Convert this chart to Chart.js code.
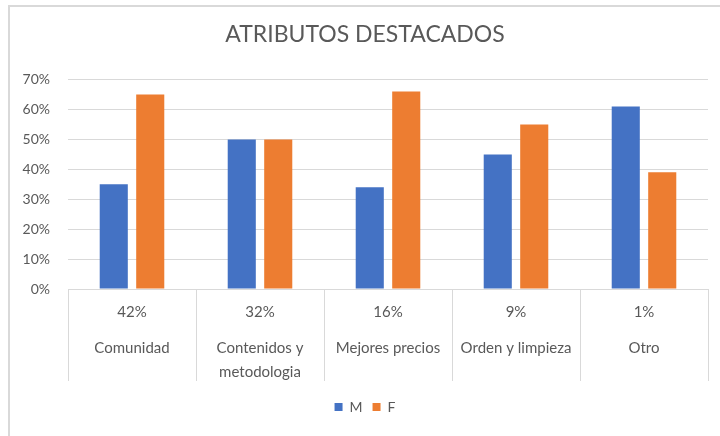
<!DOCTYPE html>
<html>
<head>
<meta charset="utf-8">
<script src="https://cdn.jsdelivr.net/npm/chart.js@4/dist/chart.umd.min.js"></script>
<style>
    body { margin: 0; background: #fff; }
    #frame {
        position: absolute; left: 8px; top: 5px; width: 800px; height: 500px;
        border-left: 2px solid #d9d9d9; border-top: 2px solid #d9d9d9;
    }
    #wrap { position: absolute; left: 0; top: 0; width: 720px; height: 436px; }
</style>
</head>
<body>
<div id="frame"></div>
<div id="wrap"><canvas id="myChart"></canvas></div>
<script>
let shares = ["42%", "32%", "16%", "9%", "1%"];
let categories = [["Comunidad"], ["Contenidos y", "", "metodologia"], ["Mejores precios"], ["Orden y limpieza"], ["Otro"]];
let valuesM = [35, 50, 34, 45, 61];
let valuesF = [65, 50, 66, 55, 39];
let yTicks = [0, 10, 20, 30, 40, 50, 60, 70];

// two-level labels: share on top, name below
let labels = shares.map((s, i) => [s, "", "", ...categories[i]]);

let grey = "#595959";
let lineGrey = "#d9d9d9";
let font = "Lato, 'Open Sans', sans-serif";

const ctx = document.getElementById("myChart").getContext("2d");

new Chart(ctx, {
    type: "bar",
    data: {
        labels: labels,
        datasets: [
            { label: "M", data: valuesM, backgroundColor: "#4472C4" },
            { label: "F", data: valuesF, backgroundColor: "#ED7D31" }
        ]
    },
    options: {
        responsive: true,
        maintainAspectRatio: false,
        animation: false,
        layout: { padding: { left: 22, right: 12, top: 0, bottom: 12 } },
        datasets: { bar: { categoryPercentage: 0.57, barPercentage: 0.77 } },
        plugins: {
            title: {
                display: true,
                text: "ATRIBUTOS DESTACADOS",
                color: grey,
                font: { family: font, size: 23, weight: "normal" },
                padding: { top: 21, bottom: 31 }
            },
            legend: {
                position: "bottom",
                labels: {
                    color: grey,
                    boxWidth: 8,
                    boxHeight: 8,
                    font: { family: font, size: 14 }
                }
            },
            tooltip: { enabled: false }
        },
        scales: {
            x: {
                grid: {
                    offset: true,
                    drawOnChartArea: false,
                    tickLength: 92,
                    color: lineGrey,
                    lineWidth: 1
                },
                border: { color: lineGrey },
                ticks: {
                    color: grey,
                    padding: -75,
                    maxRotation: 0,
                    autoSkip: false,
                    font: { family: font, size: 15, lineHeight: 0.8 }
                },
                afterFit: s => { s.height = 101; }
            },
            y: {
                min: 0,
                max: 70,
                afterBuildTicks: s => { s.ticks = yTicks.map(v => ({ value: v })); },
                grid: { color: lineGrey, drawTicks: false },
                border: { display: false },
                ticks: {
                    color: grey,
                    padding: 18,
                    font: { family: font, size: 14 },
                    callback: v => v + "%"
                },
                afterFit: s => { s.width = 46; }
            }
        }
    }
});
</script>
</body>
</html>
